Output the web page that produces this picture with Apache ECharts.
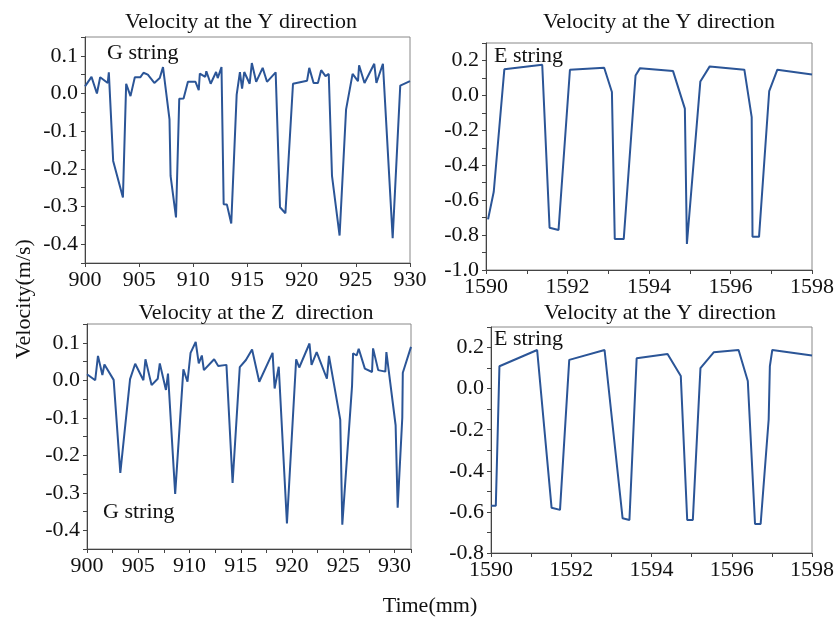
<!DOCTYPE html>
<html><head><meta charset="utf-8">
<script src="https://cdn.jsdelivr.net/npm/echarts@6/dist/echarts.min.js"></script>
<style>html,body{margin:0;padding:0;background:#fff}#c{width:837px;height:619px}</style>
</head><body><div id="c"></div>
<script>
// Panel 1: G string, Y direction
const tG_Y = [900,900.6,901.1,901.4,902.1,902.2,902.6,903.5,903.8,904.2,904.6,905.1,905.4,905.8,906.4,906.9,907.2,907.8,907.9,908.4,908.7,909.1,909.5,910.2,910.5,910.6,911.1,911.2,911.6,912.1,912.25,912.6,912.8,913.1,913.5,914.0,914.3,914.5,914.7,915.2,915.4,915.8,916.4,916.8,917.6,918.0,918.5,919.2,920.5,920.7,921.1,921.5,921.8,922.2,922.5,922.8,923.5,924.1,924.7,925.2,925.3,925.8,926.7,926.9,927.5,928.4,929.1,930.0];
const vG_Y = [0.019,0.044,0.0,0.043,0.028,0.056,-0.179,-0.276,0.026,-0.007,0.043,0.043,0.055,0.05,0.028,0.041,0.07,-0.069,-0.219,-0.329,-0.014,-0.013,0.031,0.031,0.009,0.053,0.044,0.059,0.026,0.057,0.041,0.07,-0.294,-0.295,-0.345,-0.003,0.057,0.013,0.057,0.026,0.081,0.031,0.068,0.031,0.056,-0.302,-0.318,0.026,0.034,0.068,0.028,0.028,0.062,0.046,0.052,-0.219,-0.377,-0.042,0.052,0.033,0.075,0.028,0.079,0.028,0.079,-0.384,0.021,0.033];
// Panel 2: E string, Y direction
const tE_Y1 = [1590.05,1590.19,1590.45,1591.38,1591.56,1591.78,1592.06,1592.9,1593.09,1593.16,1593.38,1593.67,1593.78,1594.59,1594.88,1594.93,1595.26,1595.49,1596.34,1596.52,1596.54,1596.70,1596.95,1597.15,1598.0];
const vE_Y1 = [-0.71,-0.552,0.149,0.175,-0.758,-0.771,0.147,0.158,0.019,-0.823,-0.823,0.114,0.156,0.139,-0.076,-0.851,0.08,0.166,0.147,-0.124,-0.81,-0.81,0.025,0.147,0.12];
// Panel 3: G string, Z direction
const tG_Z = [900.0,900.8,901.07,901.5,901.7,902.6,903.25,904.2,904.7,905.5,905.7,906.3,906.9,907.1,907.7,907.9,908.6,909.4,909.8,910.1,910.6,910.9,911.2,911.4,912.4,912.8,913.6,914.2,914.9,915.5,916.1,916.8,918.1,918.3,918.7,919.5,920.4,920.7,921.7,921.9,922.4,923.4,923.6,924.7,924.9,925.85,925.95,926.3,926.5,927.1,927.8,927.9,928.4,929.1,929.2,930.1,930.3,930.75,930.8,931.6];
const vG_Z = [0.016,0.0,0.065,0.014,0.042,0.001,-0.247,0.003,0.044,0.0,0.056,-0.013,0.004,0.045,-0.026,0.018,-0.303,0.029,-0.004,0.073,0.102,0.045,0.066,0.027,0.056,0.038,0.041,-0.274,0.035,0.054,0.082,-0.004,0.073,-0.022,0.036,-0.382,0.056,0.034,0.098,0.041,0.075,0.004,0.065,-0.105,-0.385,-0.015,0.072,0.066,0.084,0.031,0.022,0.085,0.027,0.023,0.075,-0.12,-0.34,-0.10,0.02,0.089];
// Panel 4: E string, Y direction
const tE_Y2 = [1590.0,1590.12,1590.21,1591.15,1591.51,1591.72,1591.95,1592.83,1593.28,1593.45,1593.63,1594.40,1594.73,1594.89,1595.03,1595.22,1595.55,1596.17,1596.40,1596.58,1596.72,1596.92,1596.95,1597.01,1598.0];
const vE_Y2 = [-0.57,-0.57,0.109,0.188,-0.58,-0.59,0.14,0.188,-0.631,-0.639,0.148,0.169,0.061,-0.639,-0.639,0.10,0.177,0.188,0.037,-0.659,-0.659,-0.15,0.11,0.188,0.161];

const titles = ['Velocity at the Y direction','Velocity at the Y direction','Velocity at the Z  direction','Velocity at the Y direction'];
const labels = ['G string','E string','G string','E string'];

const FONT = '"Liberation Serif","Times New Roman",serif';
const LINE = '#2b5597';
const zip = (t, v) => t.map((x, i) => [x, v[i]]);

const grids = [
  {left: 85, top: 37, width: 325, height: 226},
  {left: 486, top: 43, width: 326, height: 227},
  {left: 87, top: 324, width: 324, height: 225},
  {left: 491, top: 327, width: 323, height: 226}
];
// [min, max, tick interval, label step]
const xr = [[900,930,5,5],[1590,1598,1,2],[900,931.6,2.5,5],[1590,1598,1,2]];
const yr = [[-0.45,0.15,0.05,0.1],[-1.0,0.3,0.1,0.2],[-0.45,0.15,0.05,0.1],[-0.8,0.3,0.1,0.2]];
const titlePos = [[241,11],[659,11],[256,302],[660,302]];
const labelPos = [[107,42],[494,45],[103,501],[494,328]];

const isStep = (v, s) => Math.abs(v / s - Math.round(v / s)) < 1e-6;

const axisCommon = {
  axisLine: {show: true, onZero: false, lineStyle: {color: '#444', width: 1}},
  axisTick: {show: true, inside: false, length: 4, lineStyle: {color: '#444'}},
  splitLine: {show: false},
  axisLabel: {fontFamily: FONT, fontSize: 22, color: '#111'}
};

const option = {
  animation: false,
  backgroundColor: '#fff',
  title: titles.map((t, i) => ({
    text: t, left: titlePos[i][0], top: titlePos[i][1], textAlign: 'center', padding: 0,
    textStyle: {fontFamily: FONT, fontSize: 22, fontWeight: 'normal', color: '#111'}
  })),
  grid: grids.map(g => Object.assign({show: true, borderColor: '#888', borderWidth: 1, backgroundColor: 'transparent'}, g)),
  xAxis: xr.map((r, i) => Object.assign({}, axisCommon, {
    type: 'value', gridIndex: i, min: r[0], max: r[1], interval: r[2],
    axisLabel: Object.assign({}, axisCommon.axisLabel, {margin: 6, showMaxLabel: true,
      formatter: v => isStep(v, r[3]) ? String(v) : ''})
  })),
  yAxis: yr.map((r, i) => Object.assign({}, axisCommon, {
    type: 'value', gridIndex: i, min: r[0], max: r[1], interval: r[2],
    axisLabel: Object.assign({}, axisCommon.axisLabel, {margin: 7,
      formatter: v => isStep(v, r[3]) ? v.toFixed(1) : ''})
  })),
  series: [zip(tG_Y, vG_Y), zip(tE_Y1, vE_Y1), zip(tG_Z, vG_Z), zip(tE_Y2, vE_Y2)].map((d, i) => ({
    type: 'line', xAxisIndex: i, yAxisIndex: i, data: d, showSymbol: false,
    lineStyle: {color: LINE, width: 2}, itemStyle: {color: LINE}
  })),
  graphic: [
    ...labels.map((t, i) => ({type: 'text', left: labelPos[i][0], top: labelPos[i][1],
      style: {text: t, font: '22px ' + FONT, fill: '#111'}})),
    {type: 'text', x: 24, y: 299, rotation: Math.PI / 2,
      style: {text: 'Velocity(m/s)', font: '22px ' + FONT, fill: '#111', align: 'center', verticalAlign: 'middle'}},
    {type: 'text', x: 430, y: 606,
      style: {text: 'Time(mm)', font: '22px ' + FONT, fill: '#111', align: 'center', verticalAlign: 'middle'}}
  ]
};
echarts.init(document.getElementById('c'), null, {renderer: 'canvas'}).setOption(option);
</script></body></html>
